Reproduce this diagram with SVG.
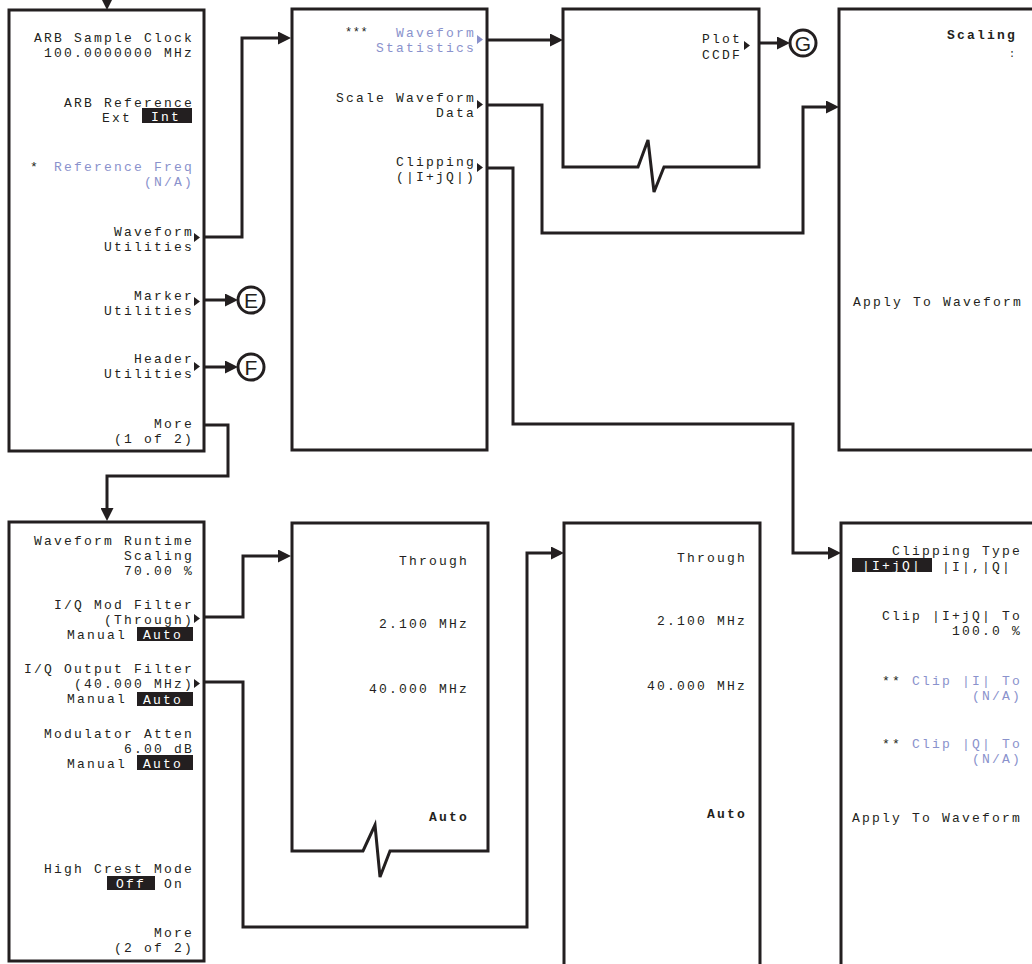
<svg xmlns="http://www.w3.org/2000/svg" width="1032" height="964" viewBox="0 0 1032 964">
<style>
.box{fill:#fff;stroke:#231f20;stroke-width:3;stroke-linejoin:miter}
.ln{fill:none;stroke:#231f20;stroke-width:3;stroke-linejoin:miter;marker-end:url(#ah)}
.t{font-family:"Liberation Mono","DejaVu Sans Mono",monospace;font-size:13px;letter-spacing:2.2px;fill:#231f20}
.r{text-anchor:end}
.b{font-weight:bold}
.blue{fill:#8a92cc}
.w{fill:#fff}
.hl{fill:#231f20}
.tri{fill:#231f20}
.trib{fill:#8a92cc}
.circ{fill:#fff;stroke:#231f20;stroke-width:3}
.cl{font-family:"Liberation Sans",Arial,sans-serif;font-size:21px;fill:#231f20;text-anchor:middle}
</style>
<defs>
<marker id="ah" markerUnits="userSpaceOnUse" markerWidth="13" markerHeight="13" viewBox="0 0 13 13" refX="7" refY="6.5" orient="auto">
<path d="M0,0 L13,6.5 L0,13 z" fill="#231f20"/>
</marker>
<path id="tr" d="M0,0 L6,4.5 L0,9 z"/>
</defs>
<rect width="1032" height="964" fill="#fff"/>

<g id="connectors">
<path class="ln" d="M107,-4 V4"/>
<path class="ln" d="M204,237 H242 V38 H285"/>
<path class="ln" d="M204,300 H232"/>
<path class="ln" d="M204,367 H232"/>
<path class="ln" d="M204,425 H228 V476 H107 V515"/>
<path class="ln" d="M488,40 H557"/>
<path class="ln" d="M759,43 H784"/>
<path class="ln" d="M488,105 H542 V233 H803 V107 H833"/>
<path class="ln" d="M488,168 H513 V424 H793 V553 H835"/>
<path class="ln" d="M204,617 H243 V556 H285"/>
<path class="ln" d="M204,682 H243 V927 H527 V553 H558"/>
</g>

<g id="node-E"><circle class="circ" cx="251" cy="300" r="13"/><text class="cl" x="251" y="308">E</text></g>
<g id="node-F"><circle class="circ" cx="251" cy="367" r="13"/><text class="cl" x="251" y="375">F</text></g>
<g id="node-G"><circle class="circ" cx="803" cy="43" r="13"/><text class="cl" x="803" y="51">G</text></g>

<g id="menu-arb">
<rect class="box" x="9" y="10" width="195" height="441"/>
<text class="t r" x="194" y="41.5">ARB Sample Clock</text>
<text class="t r" x="194" y="56.5">100.0000000 MHz</text>
<text class="t r" x="194" y="107">ARB Reference</text>
<text class="t" x="102" y="122">Ext</text>
<rect class="hl" x="142" y="108" width="50" height="15"/>
<text class="t w" x="151" y="121">Int</text>
<text class="t" x="30" y="170.5">*</text>
<text class="t r blue" x="194" y="170.5">Reference Freq</text>
<text class="t r blue" x="194" y="185.5">(N/A)</text>
<text class="t r" x="194" y="235.5">Waveform</text>
<text class="t r" x="194" y="250.5">Utilities</text>
<use href="#tr" class="tri" x="194" y="233"/>
<text class="t r" x="194" y="300">Marker</text>
<text class="t r" x="194" y="315">Utilities</text>
<use href="#tr" class="tri" x="194" y="297"/>
<text class="t r" x="194" y="363">Header</text>
<text class="t r" x="194" y="378">Utilities</text>
<use href="#tr" class="tri" x="194" y="362"/>
<text class="t r" x="194" y="428">More</text>
<text class="t r" x="194" y="443">(1 of 2)</text>
</g>

<g id="menu-utilities">
<rect class="box" x="292" y="9" width="195" height="441"/>
<text class="t" x="345" y="36" style="font-size:12px;letter-spacing:0.5px">***</text>
<text class="t r blue" x="476" y="37">Waveform</text>
<text class="t r blue" x="476" y="52">Statistics</text>
<use href="#tr" class="trib" x="477" y="35"/>
<text class="t r" x="476" y="102">Scale Waveform</text>
<text class="t r" x="476" y="117">Data</text>
<use href="#tr" class="tri" x="477" y="100"/>
<text class="t r" x="476" y="166">Clipping</text>
<text class="t r" x="476" y="181">(|I+jQ|)</text>
<use href="#tr" class="tri" x="477" y="163"/>
</g>

<g id="menu-statistics">
<path class="box" d="M638,167 H563 V9 H759 V167 H664 L654,192 L648,140 Z"/>
<text class="t r" x="742" y="43">Plot</text>
<text class="t r" x="742" y="59">CCDF</text>
<use href="#tr" class="tri" x="744" y="41"/>
</g>

<g id="menu-scaling">
<rect class="box" x="839" y="9" width="200" height="441"/>
<text class="t r b" x="1017" y="39">Scaling</text>
<text class="t" x="1009" y="57" style="font-size:10px;letter-spacing:0">:</text>
<text class="t" x="853" y="306">Apply To Waveform</text>
</g>

<g id="menu-more2">
<rect class="box" x="9" y="522" width="195" height="439"/>
<text class="t r" x="194" y="545">Waveform Runtime</text>
<text class="t r" x="194" y="560">Scaling</text>
<text class="t r" x="194" y="575">70.00 %</text>
<text class="t r" x="194" y="608.5">I/Q Mod Filter</text>
<text class="t r" x="194" y="623.5">(Through)</text>
<use href="#tr" class="tri" x="194" y="614"/>
<text class="t" x="67" y="638.5">Manual</text>
<rect class="hl" x="137" y="627" width="56" height="14"/>
<text class="t w" x="143" y="639">Auto</text>
<text class="t r" x="194" y="672.5">I/Q Output Filter</text>
<text class="t r" x="194" y="687.5">(40.000 MHz)</text>
<use href="#tr" class="tri" x="194" y="679"/>
<text class="t" x="67" y="703">Manual</text>
<rect class="hl" x="137" y="692" width="56" height="14"/>
<text class="t w" x="143" y="704">Auto</text>
<text class="t r" x="194" y="738">Modulator Atten</text>
<text class="t r" x="194" y="753">6.00 dB</text>
<text class="t" x="67" y="768">Manual</text>
<rect class="hl" x="137" y="755" width="56" height="15"/>
<text class="t w" x="143" y="768">Auto</text>
<text class="t r" x="194" y="873">High Crest Mode</text>
<rect class="hl" x="107" y="876" width="48" height="14"/>
<text class="t w" x="116" y="888">Off</text>
<text class="t" x="164" y="888">On</text>
<text class="t r" x="194" y="937">More</text>
<text class="t r" x="194" y="952">(2 of 2)</text>
</g>

<g id="menu-mod-filter">
<path class="box" d="M363,851 H292 V523 H488 V851 H390 L380,877 L375,825 Z"/>
<text class="t r" x="469" y="565">Through</text>
<text class="t r" x="469" y="628">2.100 MHz</text>
<text class="t r" x="469" y="693">40.000 MHz</text>
<text class="t r b" x="469" y="821">Auto</text>
</g>

<g id="menu-output-filter">
<path class="box" d="M564,970 V523 H760 V970"/>
<text class="t r" x="747" y="562">Through</text>
<text class="t r" x="747" y="625">2.100 MHz</text>
<text class="t r" x="747" y="690">40.000 MHz</text>
<text class="t r b" x="747" y="818">Auto</text>
</g>

<g id="menu-clipping">
<path class="box" d="M841,970 V523 H1040"/>
<text class="t r" x="1022" y="555">Clipping Type</text>
<rect class="hl" x="852" y="558" width="80" height="14"/>
<text class="t w" x="862" y="570">|I+jQ|</text>
<text class="t r" x="1012" y="571">|I|,|Q|</text>
<text class="t r" x="1022" y="620">Clip |I+jQ| To</text>
<text class="t r" x="1022" y="635">100.0 %</text>
<text class="t" x="882" y="684.5">**</text>
<text class="t r blue" x="1022" y="684.5">Clip |I| To</text>
<text class="t r blue" x="1022" y="699.5">(N/A)</text>
<text class="t" x="882" y="748">**</text>
<text class="t r blue" x="1022" y="748">Clip |Q| To</text>
<text class="t r blue" x="1022" y="763">(N/A)</text>
<text class="t" x="852" y="822">Apply To Waveform</text>
</g>
</svg>
